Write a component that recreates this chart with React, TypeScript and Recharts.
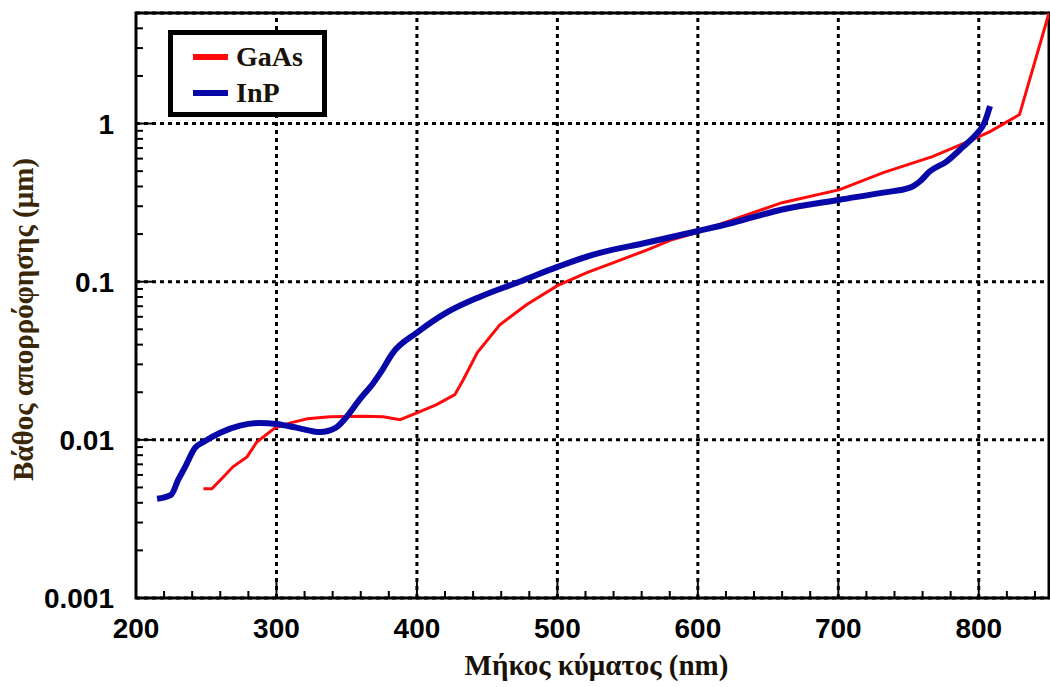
import React from "react";
import {
  CartesianGrid,
  Label,
  Legend,
  Line,
  LineChart,
  ReferenceArea,
  ReferenceLine,
  XAxis,
  YAxis,
} from "recharts";

// absorption depth vs wavelength, GaAs and InP
const GAAS_NM = [
  248, 254, 262, 269, 279, 286, 299, 310, 322, 338, 362, 376, 388, 400, 414, 427, 433, 443, 459,
  478, 500, 521, 540, 564, 582, 601, 625, 660, 701, 732, 767, 791, 808, 829, 850,
];
const GAAS_DEPTH = [
  0.0049, 0.0049, 0.0058, 0.00675, 0.0078, 0.0097, 0.0119, 0.0128, 0.0136, 0.014, 0.0141, 0.014,
  0.0134, 0.0148, 0.0167, 0.0193, 0.024, 0.0356, 0.0534, 0.0715, 0.0944, 0.114, 0.132, 0.159, 0.185,
  0.207, 0.247, 0.316, 0.382, 0.49, 0.617, 0.76, 0.89, 1.14, 5.0,
];

const INP_NM = [
  215, 225, 230, 235, 242, 248, 260, 274, 288, 300, 315, 331, 342, 350, 359, 369, 374, 383, 400,
  421, 445, 473, 500, 525, 564, 601, 625, 660, 701, 732, 751, 758, 765, 777, 789, 798, 804, 808,
];
const INP_DEPTH = [
  0.00424, 0.00449, 0.00558, 0.00675, 0.0089, 0.0097, 0.0111, 0.0123, 0.0128, 0.0126, 0.0119,
  0.0112, 0.0119, 0.014, 0.0179, 0.0229, 0.0265, 0.0356, 0.0476, 0.0637, 0.0804, 0.1, 0.124, 0.148,
  0.177, 0.21, 0.236, 0.286, 0.33, 0.366, 0.393, 0.43, 0.497, 0.575, 0.715, 0.85, 1.01, 1.29,
];

const X_LABELS = [200, 300, 400, 500, 600, 700, 800];
const X_MINOR = [
  220, 240, 260, 280, 320, 340, 360, 380, 420, 440, 460, 480, 520, 540, 560, 580, 620, 640, 660,
  680, 720, 740, 760, 780, 820, 840,
];
const X_GRID = [300, 400, 500, 600, 700, 800];

const Y_LABELS = [0.001, 0.01, 0.1, 1];
const Y_MINOR = [
  0.002, 0.003, 0.004, 0.005, 0.006, 0.007, 0.008, 0.009, 0.02, 0.03, 0.04, 0.05, 0.06, 0.07, 0.08,
  0.09, 0.2, 0.3, 0.4, 0.5, 0.6, 0.7, 0.8, 0.9, 2, 3, 4,
];
const Y_GRID = [0.01, 0.1, 1];

const gaas = GAAS_NM.map((x, i) => ({ x, v: GAAS_DEPTH[i] }));
const inp = INP_NM.map((x, i) => ({ x, v: INP_DEPTH[i] }));

const RED = "#ff0a0a";
const BLUE = "#0808a8";
const TICK_FONT = "'Liberation Sans', Arial, sans-serif";
const TITLE_FONT = "'Liberation Serif', 'Times New Roman', serif";
const GRID_DASH = "4 4";

function XTick(props: any) {
  const { x, y, payload } = props;
  const major = X_LABELS.includes(payload.value);
  return (
    <g>
      <line x1={x} x2={x} y1={y} y2={y - (major ? 17 : 7)} stroke="#000" strokeWidth={2} />
      {major ? (
        <text
          x={x}
          y={y + 40}
          textAnchor="middle"
          fontFamily={TICK_FONT}
          fontWeight="bold"
          fontSize={28}
          fill="#000"
        >
          {payload.value}
        </text>
      ) : null}
    </g>
  );
}

function YTick(props: any) {
  const { x, y, payload } = props;
  const major = Y_LABELS.includes(payload.value);
  return (
    <g>
      <line x1={x} x2={x + (major ? 18 : 7)} y1={y} y2={y} stroke="#000" strokeWidth={2} />
      {major ? (
        <text
          x={x - 22}
          y={y}
          dy="0.36em"
          textAnchor="end"
          fontFamily={TICK_FONT}
          fontWeight="bold"
          fontSize={28}
          fill="#000"
        >
          {String(payload.value)}
        </text>
      ) : null}
    </g>
  );
}

function XTitle(props: any) {
  const { viewBox } = props;
  const cx = viewBox.x + viewBox.width / 2 + 4;
  return (
    <text
      x={cx}
      y={viewBox.y + 77}
      textAnchor="middle"
      fontFamily={TITLE_FONT}
      fontWeight="bold"
      fontSize={29}
      fill="#1a1208"
    >
      Μήκος κύματος (nm)
    </text>
  );
}

function YTitle(props: any) {
  const { viewBox } = props;
  const cx = viewBox.x + 33;
  const cy = viewBox.y + viewBox.height / 2 + 14;
  return (
    <text
      x={cx}
      y={cy}
      transform={`rotate(-90 ${cx} ${cy})`}
      textAnchor="middle"
      fontFamily={TITLE_FONT}
      fontWeight="bold"
      fontSize={29}
      fill="#3a2608"
    >
      Βάθος απορρόφησης (μm)
    </text>
  );
}

function LegendBox(props: any) {
  const items = props.payload ?? [];
  return (
    <svg width={159} height={87}>
      <rect x={2.5} y={2.5} width={154} height={82} fill="#fff" stroke="#000" strokeWidth={5} />
      {items.map((it: any, i: number) => {
        const cy = 27 + i * 36;
        return (
          <g key={it.value}>
            <line x1={25} x2={60} y1={cy} y2={cy} stroke={it.color} strokeWidth={6} />
            <text
              x={68}
              y={cy + 9}
              fontFamily={TITLE_FONT}
              fontWeight="bold"
              fontSize={28}
              fill="#1a1208"
            >
              {it.value}
            </text>
          </g>
        );
      })}
    </svg>
  );
}

export default function App() {
  return (
    <div style={{ position: "absolute", left: 0, top: 0, width: 1050, height: 687, background: "#fff" }}>
      <LineChart width={1050} height={687} margin={{ top: 13, right: 1, bottom: 0, left: 0 }}>
        {/* y axis used only to place the dotted grid at the labelled decades */}
        <YAxis yAxisId="g" type="number" scale="log" domain={[0.001, 5]} ticks={Y_GRID} hide allowDataOverflow />
        <CartesianGrid
          yAxisId="g"
          vertical={false}
          stroke="#000"
          strokeWidth={3}
          strokeDasharray={GRID_DASH}
        />
        <XAxis
          type="number"
          dataKey="x"
          domain={[200, 850]}
          allowDataOverflow
          ticks={[...X_LABELS, ...X_MINOR].sort((a, b) => a - b)}
          interval={0}
          tickSize={0}
          tickMargin={0}
          tickLine={false}
          axisLine={false}
          height={89}
          tick={<XTick />}
        >
          <Label content={<XTitle />} />
        </XAxis>
        <YAxis
          type="number"
          scale="log"
          domain={[0.001, 5]}
          allowDataOverflow
          ticks={[...Y_LABELS, ...Y_MINOR].sort((a, b) => a - b)}
          interval={0}
          tickSize={0}
          tickMargin={0}
          tickLine={false}
          axisLine={false}
          width={136}
          tick={<YTick />}
        >
          <Label content={<YTitle />} />
        </YAxis>
        {X_GRID.map((g) => (
          <ReferenceLine
            key={g}
            x={g}
            stroke="#000"
            strokeWidth={3}
            strokeDasharray={GRID_DASH}
          />
        ))}
        <ReferenceArea
          x1={200}
          x2={850}
          y1={0.001}
          y2={5}
          fill="none"
          stroke="#000"
          strokeWidth={3}
          ifOverflow="visible"
        />
        <Line
          data={gaas}
          dataKey="v"
          name="GaAs"
          type="linear"
          stroke={RED}
          strokeWidth={3}
          dot={false}
          isAnimationActive={false}
        />
        <Line
          data={inp}
          dataKey="v"
          name="InP"
          type="monotone"
          stroke={BLUE}
          strokeWidth={6}
          strokeLinejoin="round"
          dot={false}
          isAnimationActive={false}
        />
        <Legend
          layout="horizontal"
          verticalAlign="middle"
          align="center"
          wrapperStyle={{ left: 168, top: 30, width: 159, height: 87 }}
          content={<LegendBox />}
        />
      </LineChart>
    </div>
  );
}
